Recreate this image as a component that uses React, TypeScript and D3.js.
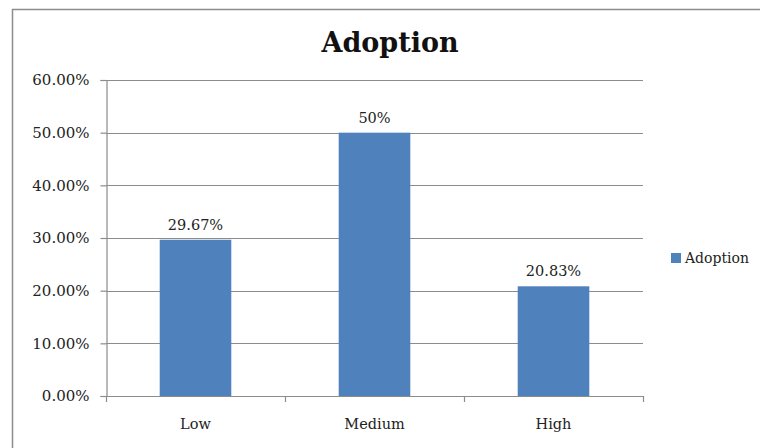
// @ts-nocheck
import React, { useRef, useEffect } from 'react';
import * as d3 from 'd3';

// chart values
const categories = ["Low", "Medium", "High"];
const adoption = [0.2967, 0.5, 0.2083];
const valueLabels = ["29.67%", "50%", "20.83%"];
const yTicks = [0, 0.1, 0.2, 0.3, 0.4, 0.5, 0.6];
const seriesName = "Adoption";

const W = 760;
const H = 448;
const font = "'DejaVu Serif', serif";
const barColor = "#4F81BD";
const lineColor = "#8c8c8c";

const App = () => {
    const ref = useRef<SVGSVGElement | null>(null);

    useEffect(() => {
        const svg = d3.select(ref.current);
        svg.selectAll("*").remove();

        const plot = { left: 106, right: 643, top: 80, bottom: 396 };

        const x = d3.scaleBand()
            .domain(categories)
            .range([plot.left, plot.right])
            .paddingInner(0.6)
            .paddingOuter(0.3);

        const y = d3.scaleLinear()
            .domain([0, 0.6])
            .range([plot.bottom, plot.top]);

        // outer chart border (right and bottom run off the picture)
        svg.append("rect")
            .attr("x", 12.5).attr("y", 9.5)
            .attr("width", W).attr("height", H)
            .attr("fill", "white")
            .attr("stroke", lineColor)
            .attr("stroke-width", 1.5);

        // title
        svg.append("text")
            .attr("x", 390).attr("y", 52)
            .attr("text-anchor", "middle")
            .style("font-family", font)
            .style("font-weight", "bold")
            .style("font-size", "27px")
            .attr("fill", "#111")
            .text(seriesName);

        // gridlines
        svg.append("g")
            .selectAll("line")
            .data(yTicks.filter(d => d > 0))
            .enter().append("line")
            .attr("x1", plot.left).attr("x2", plot.right)
            .attr("y1", d => Math.round(y(d)) + 0.5)
            .attr("y2", d => Math.round(y(d)) + 0.5)
            .attr("stroke", lineColor)
            .attr("stroke-width", 1.2);

        // y axis
        const yAxis = svg.append("g")
            .attr("transform", `translate(${plot.left + 0.5},0)`)
            .call(d3.axisLeft(y).tickValues(yTicks).tickFormat(d3.format(".2%")).tickSize(6).tickPadding(11));
        yAxis.select(".domain").attr("stroke", lineColor).attr("stroke-width", 1.2);
        yAxis.selectAll(".tick line").attr("stroke", lineColor).attr("stroke-width", 1.2);
        yAxis.selectAll("text")
            .style("font-family", font)
            .style("font-size", "15px")
            .attr("fill", "#222");

        // bars
        svg.append("g")
            .selectAll("rect")
            .data(adoption)
            .enter().append("rect")
            .attr("x", (d, i) => x(categories[i]))
            .attr("y", d => y(d))
            .attr("width", x.bandwidth())
            .attr("height", d => plot.bottom - y(d))
            .attr("fill", barColor);

        // value labels
        svg.append("g")
            .selectAll("text")
            .data(adoption)
            .enter().append("text")
            .attr("x", (d, i) => x(categories[i]) + x.bandwidth() / 2)
            .attr("y", d => y(d) - 10)
            .attr("text-anchor", "middle")
            .style("font-family", font)
            .style("font-size", "14.5px")
            .attr("fill", "#222")
            .text((d, i) => valueLabels[i]);

        // x axis
        const step = (plot.right - plot.left) / categories.length;
        const xg = svg.append("g");
        xg.append("line")
            .attr("x1", plot.left).attr("x2", plot.right)
            .attr("y1", plot.bottom + 0.5).attr("y2", plot.bottom + 0.5)
            .attr("stroke", lineColor).attr("stroke-width", 1.2);
        xg.selectAll("line.tick")
            .data(d3.range(categories.length + 1))
            .enter().append("line")
            .attr("class", "tick")
            .attr("x1", i => Math.round(plot.left + i * step) + 0.5)
            .attr("x2", i => Math.round(plot.left + i * step) + 0.5)
            .attr("y1", plot.bottom).attr("y2", plot.bottom + 6)
            .attr("stroke", lineColor).attr("stroke-width", 1.2);
        xg.selectAll("text")
            .data(categories)
            .enter().append("text")
            .attr("x", d => x(d) + x.bandwidth() / 2)
            .attr("y", 429)
            .attr("text-anchor", "middle")
            .style("font-family", font)
            .style("font-size", "14.5px")
            .attr("fill", "#222")
            .text(d => d);

        // legend
        svg.append("rect")
            .attr("x", 671).attr("y", 253)
            .attr("width", 10).attr("height", 10)
            .attr("fill", barColor);
        svg.append("text")
            .attr("x", 685).attr("y", 263)
            .style("font-family", font)
            .style("font-size", "14px")
            .attr("fill", "#222")
            .text(seriesName);
    }, []);

    return (
        <svg
            ref={ref}
            width={W}
            height={H}
            style={{ position: "absolute", left: 0, top: 0, background: "white" }}
        />
    );
};

export default App;
